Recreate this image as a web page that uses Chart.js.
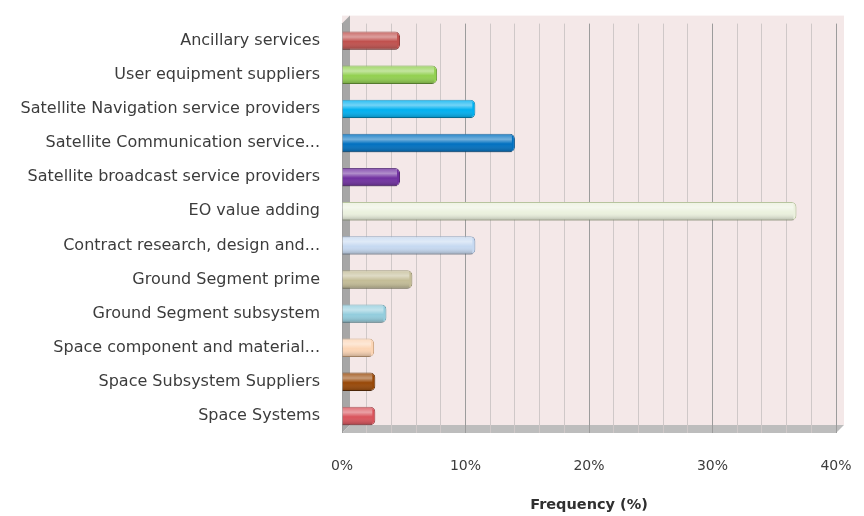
<!DOCTYPE html>
<html>
<head>
<meta charset="utf-8">
<script src="https://cdn.jsdelivr.net/npm/chart.js@4.4.1/dist/chart.umd.min.js"></script>
<style>
  html, body { margin: 0; padding: 0; background: #ffffff; }
  #wrap { position: relative; width: 864px; height: 516px; }
</style>
</head>
<body>
<div id="wrap"><canvas id="chart-frequency-bar"></canvas></div>
<script>
/* ── Data ── */
var categories = [
    'Ancillary services',
    'User equipment suppliers',
    'Satellite Navigation service providers',
    'Satellite Communication service...',
    'Satellite broadcast service providers',
    'EO value adding',
    'Contract research, design and...',
    'Ground Segment prime',
    'Ground Segment subsystem',
    'Space component and material...',
    'Space Subsystem Suppliers',
    'Space Systems'
];
var frequencyValues = [4.7, 7.7, 10.8, 14.0, 4.7, 36.8, 10.8, 5.7, 3.6, 2.6, 2.7, 2.7];
var barColors   = ['#c0504d', '#92d050', '#00b0f0', '#0070c0', '#7030a0', '#ebf1de',
                   '#c6d9f1', '#c4bd97', '#93cddd', '#fcd5b5', '#984807', '#d9535b'];
var barBorders  = ['#8c3836', '#6a9a38', '#0085b5', '#004f8a', '#4e2070', '#a8b88a',
                   '#7f96b5', '#8f8a66', '#5f9aaa', '#c9a07a', '#5e2c04', '#98383e'];
var tickValues  = [0, 10, 20, 30, 40];

/* ── Fake 3D walls + bar shading ── */
var wallPlugin = {
    id: 'wallPlugin',
    beforeDraw: function (chart) {
        var c = chart.ctx, a = chart.chartArea, d = 8;
        c.save();
        // back wall
        c.fillStyle = '#f4e8e8';
        c.fillRect(a.left, a.top - d, a.right - a.left + d, a.bottom - a.top);
        // left side wall
        c.fillStyle = '#a6a6a6';
        c.beginPath();
        c.moveTo(a.left, a.top); c.lineTo(a.left + d, a.top - d);
        c.lineTo(a.left + d, a.bottom - d); c.lineTo(a.left, a.bottom);
        c.closePath(); c.fill();
        // floor
        c.fillStyle = '#bdbdbd';
        c.beginPath();
        c.moveTo(a.left, a.bottom); c.lineTo(a.left + d, a.bottom - d);
        c.lineTo(a.right + d, a.bottom - d); c.lineTo(a.right, a.bottom);
        c.closePath(); c.fill();
        c.restore();
    },
    afterDatasetsDraw: function (chart) {
        var c = chart.ctx;
        var meta = chart.getDatasetMeta(0);
        c.save();
        meta.data.forEach(function (bar) {
            var h = bar.height, top = bar.y - h / 2;
            var g = c.createLinearGradient(0, top, 0, top + h);
            g.addColorStop(0, 'rgba(255,255,255,0.15)');
            g.addColorStop(0.3, 'rgba(255,255,255,0.45)');
            g.addColorStop(0.55, 'rgba(255,255,255,0)');
            g.addColorStop(1, 'rgba(0,0,0,0.25)');
            c.fillStyle = g;
            c.fillRect(bar.base, top, bar.x - bar.base - 3, h);
        });
        c.restore();
    }
};

var ctx = document.getElementById('chart-frequency-bar').getContext('2d');
var frequencyChart = new Chart(ctx, {
    type: 'bar',
    data: {
        labels: categories,
        datasets: [{
            data: frequencyValues,
            backgroundColor: barColors,
            borderColor: barBorders,
            borderWidth: 1,
            borderRadius: 5,
            borderSkipped: 'start',
            categoryPercentage: 1,
            barPercentage: 0.54
        }]
    },
    options: {
        indexAxis: 'y',
        responsive: true,
        maintainAspectRatio: false,
        animation: false,
        layout: { padding: { top: 13, right: 28, bottom: 0, left: 0 } },
        plugins: { legend: { display: false }, tooltip: { enabled: false } },
        scales: {
            x: {
                min: 0, max: 40,
                afterBuildTicks: function (axis) {
                    var t = [];
                    for (var v = 0; v <= 40; v += 2) t.push({ value: v });
                    axis.ticks = t;
                },
                afterFit: function (axis) {
                    axis.height = 83;
                    axis.paddingRight = 0;
                    axis.paddingLeft = 0;
                },
                ticks: {
                    autoSkip: false, maxRotation: 0, padding: 25,
                    color: '#3c3c3c',
                    font: { family: 'DejaVu Sans', size: 14 },
                    callback: function (v) { return tickValues.indexOf(v) >= 0 ? v + '%' : ''; }
                },
                grid: {
                    drawTicks: false,
                    color: function (c) { return c.tick && c.tick.value % 10 === 0 ? '#9c9c9c' : '#cfc8c8'; }
                },
                border: { display: false },
                title: {
                    display: true, text: 'Frequency (%)', color: '#303030',
                    font: { family: 'DejaVu Sans', size: 14.5, weight: 'bold' },
                    padding: { top: 0, bottom: 2 }
                }
            },
            y: {
                afterFit: function (axis) { axis.width = 342; },
                grid: { display: false },
                border: { display: false },
                ticks: {
                    padding: 14, color: '#3c3c3c',
                    font: { family: 'DejaVu Sans', size: 16 }
                }
            }
        }
    },
    plugins: [wallPlugin]
});
</script>
</body>
</html>
